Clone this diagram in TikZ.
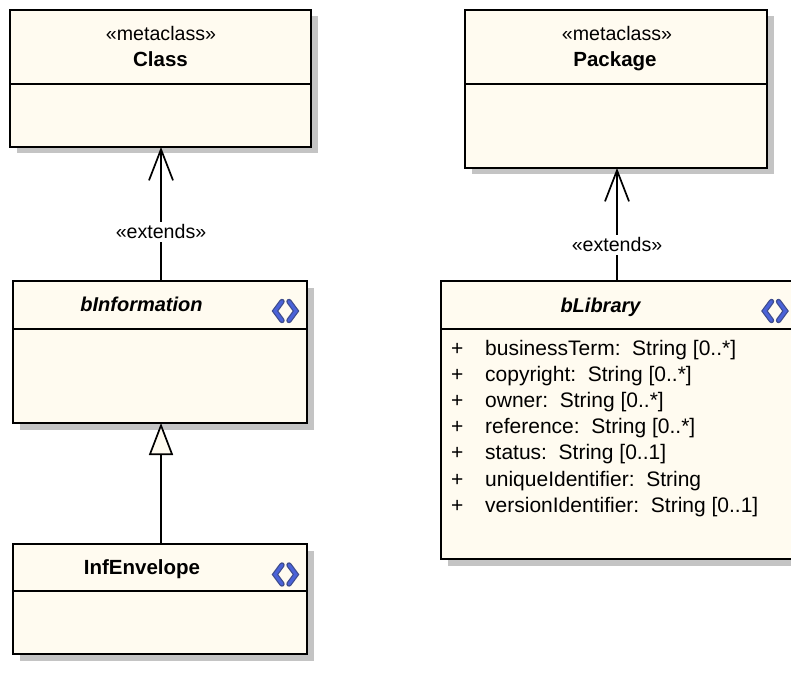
\documentclass[tikz,border=0pt]{standalone}
\usepackage{fontspec}
\setmainfont{Liberation Sans}
\usetikzlibrary{arrows.meta,shadows}
\definecolor{cream}{HTML}{FFFBF0}
\definecolor{shadowgray}{HTML}{C4C4C4}
\definecolor{iconblue}{HTML}{4A62D8}
\definecolor{icondark}{HTML}{3E4C8C}
\tikzset{
  umlbox/.style={draw=black,fill=cream,line width=1.8pt,rectangle,inner sep=0pt,outer sep=0pt,anchor=north west,
    general shadow={fill=shadowgray,shadow xshift=6.5pt,shadow yshift=-6.5pt}},
  umltext/.style={font=\fontsize{19.6}{22}\selectfont,inner sep=0pt,text=black,anchor=base},
  umlname/.style={umltext,font=\fontsize{20.5}{22}\selectfont\bfseries},
  umlabs/.style={umltext,font=\fontsize{20}{22}\selectfont\bfseries\itshape},
  attrtext/.style={umltext,font=\fontsize{21}{22}\selectfont,anchor=base west},
  divider/.style={line width=1.6pt,black},
  conn/.style={line width=1.8pt,black},
  extendtip/.style={conn,-{Straight Barb[length=31pt,width=24pt,line width=1.7pt]}},
  gentip/.style={conn,-{Triangle[open,length=32pt,width=24pt,fill=cream,line width=1.7pt]}},
  conlabel/.style={umltext,anchor=center,fill=white,inner xsep=2pt,inner ysep=3pt},
  icondk/.style={draw=icondark,line width=5.4pt,line join=miter,line cap=round},
  iconlt/.style={draw=iconblue,line width=3pt,line join=miter,line cap=round},
}
\newcommand{\umlbox}[6]{% name, x1, y1, x2, y2, divider y
  \node[umlbox,minimum width=#4pt-#2pt,minimum height=#5pt-#3pt] (#1) at (#2,#3) {};
  \coordinate (#1dl) at (#2,#6);
  \coordinate (#1dr) at (#4,#6);
  \draw[divider] (#1dl) -- (#1dr);
}
\newcommand{\chevrons}[2]{%
  \begin{scope}[shift={(#1,#2)}]
    \draw[icondk] (-3.5,-9.5) -- (-10.5,0) -- (-3.5,9.5);
    \draw[icondk] (3.5,-9.5) -- (10.5,0) -- (3.5,9.5);
    \draw[iconlt] (-3.5,-9.5) -- (-10.5,0) -- (-3.5,9.5);
    \draw[iconlt] (3.5,-9.5) -- (10.5,0) -- (3.5,9.5);
  \end{scope}
}
\begin{document}
\begin{tikzpicture}[x=1pt,y=-1pt]
\useasboundingbox (0,0) rectangle (791,684);
\umlbox{class}{10}{10}{311}{147}{84}
\umlbox{pack}{465}{10}{767}{168}{84}
\umlbox{binfo}{13}{281}{307}{423}{329}
\umlbox{envel}{13}{544}{307}{654}{591}
\umlbox{blib}{441}{281}{793}{559}{329}

\node[umltext] (t1) at (161,40.5) {«metaclass»};
\node[umlname] (t2) at (160.5,67) {Class};
\node[umltext] (t3) at (617,40.5) {«metaclass»};
\node[umlname] (t4) at (615,67) {Package};
\node[umlabs] (t5) at (141.5,311) {bInformation};
\node[umlname] (t6) at (142,574) {InfEnvelope};
\node[umlabs] (t7) at (600.5,312) {bLibrary};

\foreach \y/\s/\t in {355/a/businessTerm:\ \ String [0..*],
                      381/b/copyright:\ \ String [0..*],
                      407/c/owner:\ \ String [0..*],
                      433/d/reference:\ \ String [0..*],
                      459/e/status:\ \ String [0..1],
                      486/f/uniqueIdentifier:\ \ String,
                      512/g/versionIdentifier:\ \ String [0..1]}{
  \node[attrtext] (plus\s) at (451,\y) {+};
  \node[attrtext] (attr\s) at (485,\y) {\t};
}

\chevrons{285.5}{311}
\chevrons{285.5}{574.5}
\chevrons{775}{311}

\draw[extendtip] ([xshift=1pt]binfo.north) -- ([xshift=1pt]binfo.north |- class.south) node[conlabel,pos=.366] (e1) {«extends»};
\draw[extendtip] (blib.north) -- (blib.north |- pack.south) node[conlabel,pos=.32] (e2) {«extends»};
\draw[gentip] ([xshift=1pt]envel.north) -- ([xshift=1pt]envel.north |- binfo.south);
\end{tikzpicture}
\end{document}
